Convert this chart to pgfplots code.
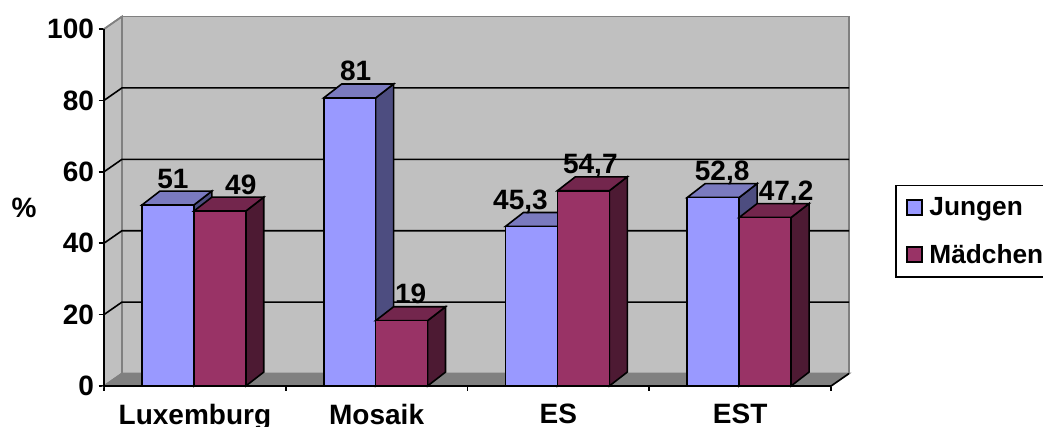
\documentclass[border=0pt]{standalone}
\usepackage{fontspec}
\setmainfont{Liberation Sans}
\usepackage{pgfplots}
\pgfplotsset{compat=1.18}
% 1 image pixel = 0.75pt
\definecolor{wand}{RGB}{192,192,192}
\definecolor{boden}{RGB}{128,128,128}
\definecolor{jfront}{RGB}{153,153,255}
\definecolor{jtop}{RGB}{122,122,191}
\definecolor{jside}{RGB}{77,77,128}
\definecolor{mfront}{RGB}{153,51,102}
\definecolor{mtop}{RGB}{115,38,77}
\definecolor{mside}{RGB}{77,26,51}
\newcommand{\lab}{\fontsize{21}{21}\selectfont\bfseries}
% cat, series (0/1), value, label text, label shift in px, colour prefix
\newcommand{\saeule}[6]{%
  \pgfmathsetmacro{\xa}{#1+0.2088+#2*0.2857}%
  \pgfmathsetmacro{\xb}{\xa+0.2857}%
  \pgfmathsetmacro{\xc}{\xb+0.0989}%
  \pgfmathsetmacro{\xd}{\xa+0.0989}%
  \pgfmathsetmacro{\yt}{#3+3.9}%
  \pgfmathsetmacro{\yf}{3.9}%
  \pgfmathsetmacro{\lx}{\xa+(26+#5)/182}%
  \pgfmathsetmacro{\ly}{#3+3.9+0.85}%
  \edef\tmp{%
    \noexpand\addplot[forget plot,fill=#6side,draw=black,line width=1.2pt] coordinates {(\xb,0)(\xc,\yf)(\xc,\yt)(\xb,#3)} -- cycle;
    \noexpand\addplot[forget plot,fill=#6top,draw=black,line width=1.2pt] coordinates {(\xa,#3)(\xd,\yt)(\xc,\yt)(\xb,#3)} -- cycle;
    \noexpand\addplot[forget plot,fill=#6front,draw=black,line width=1.2pt] coordinates {(\xa,0)(\xa,#3)(\xb,#3)(\xb,0)} -- cycle;
    \noexpand\node[anchor=base,inner sep=0pt,font=\noexpand\lab] at (axis cs:\lx,\ly) {#4};
  }\tmp}
\begin{document}
\begin{tikzpicture}
\path[use as bounding box] (0,0) rectangle (782.25pt,320.25pt);
\begin{axis}[
  at={(78pt,30.75pt)},anchor=south west,
  scale only axis,width=558.75pt,height=277.1pt,
  xmin=0,xmax=4.0989,ymin=0,ymax=103.5,
  clip=false,
  axis line style={draw=none},
  xtick={0.5,1.5,2.5,3.5},
  xticklabels={Luxemburg,Mosaik,ES,EST},
  minor xtick={0,1,2,3,4},
  ytick={0,20,40,60,80,100},
  xtick pos=bottom,ytick pos=left,
  tick align=outside,
  major tick length=4pt,minor tick length=3.5pt,
  major x tick style={draw=none},
  minor x tick style={black,line width=1.2pt},
  major y tick style={black,line width=1.2pt},
  /pgf/number format/assume math mode=true,
  tick label style={font=\lab},
  xticklabel style={yshift=-6pt},
  legend style={at={(axis cs:4.354,56.4)},anchor=north west,draw=black,line width=1.2pt,
    font=\fontsize{19.7}{19.7}\selectfont\bfseries,inner xsep=7.5pt,inner ysep=7pt,row sep=16pt,cells={anchor=west},
    /tikz/column 1/.style={column sep=3pt}},
  legend cell align=left,
  legend image code/.code={\draw[#1,line width=1.2pt] (0pt,-5.6pt) rectangle (11.25pt,5.6pt);},
]
\addlegendimage{fill=jfront,draw=black}
\addlegendentry{Jungen}
\addlegendimage{fill=mfront,draw=black}
\addlegendentry{Mädchen}
% walls and floor
\addplot[forget plot,fill=wand,draw=boden,line width=1.2pt] coordinates {(0.0989,3.5)(4.0989,3.5)(4.0989,103.5)(0.0989,103.5)} -- cycle;
\addplot[forget plot,fill=wand,draw=boden,line width=1.2pt] coordinates {(0,0)(0.0989,3.5)(0.0989,103.5)(0,100)} -- cycle;
\addplot[forget plot,fill=boden,draw=boden,line width=1.2pt] coordinates {(0,0)(4,0)(4.0989,3.5)(0.0989,3.5)} -- cycle;
% gridlines, back wall and the slanted part on the left wall
\addplot[forget plot,black,line width=1.2pt] coordinates {(0,20)(0.0989,23.5)(4.0989,23.5)};
\addplot[forget plot,black,line width=1.2pt] coordinates {(0,40)(0.0989,43.5)(4.0989,43.5)};
\addplot[forget plot,black,line width=1.2pt] coordinates {(0,60)(0.0989,63.5)(4.0989,63.5)};
\addplot[forget plot,black,line width=1.2pt] coordinates {(0,80)(0.0989,83.5)(4.0989,83.5)};
\addplot[forget plot,boden,line width=1.2pt] coordinates {(0,100)(0.0989,103.5)};
% axis lines
\addplot[forget plot,black,line width=1.2pt] coordinates {(0,100)(0,0)(4,0)(4.0989,3.5)};
% bars
\saeule{0}{0}{50.7}{51}{5}{j}
\saeule{0}{1}{49}{49}{21}{m}
\saeule{1}{0}{80.7}{81}{6}{j}
\saeule{1}{1}{18.3}{19}{9}{m}
\saeule{2}{0}{44.7}{45,3}{-11}{j}
\saeule{2}{1}{54.7}{54,7}{7}{m}
\saeule{3}{0}{52.8}{52,8}{9}{j}
\saeule{3}{1}{47.2}{47,2}{21}{m}
\end{axis}
\node[font=\lab] at (18pt,164.5pt) {\%};
\end{tikzpicture}
\end{document}
